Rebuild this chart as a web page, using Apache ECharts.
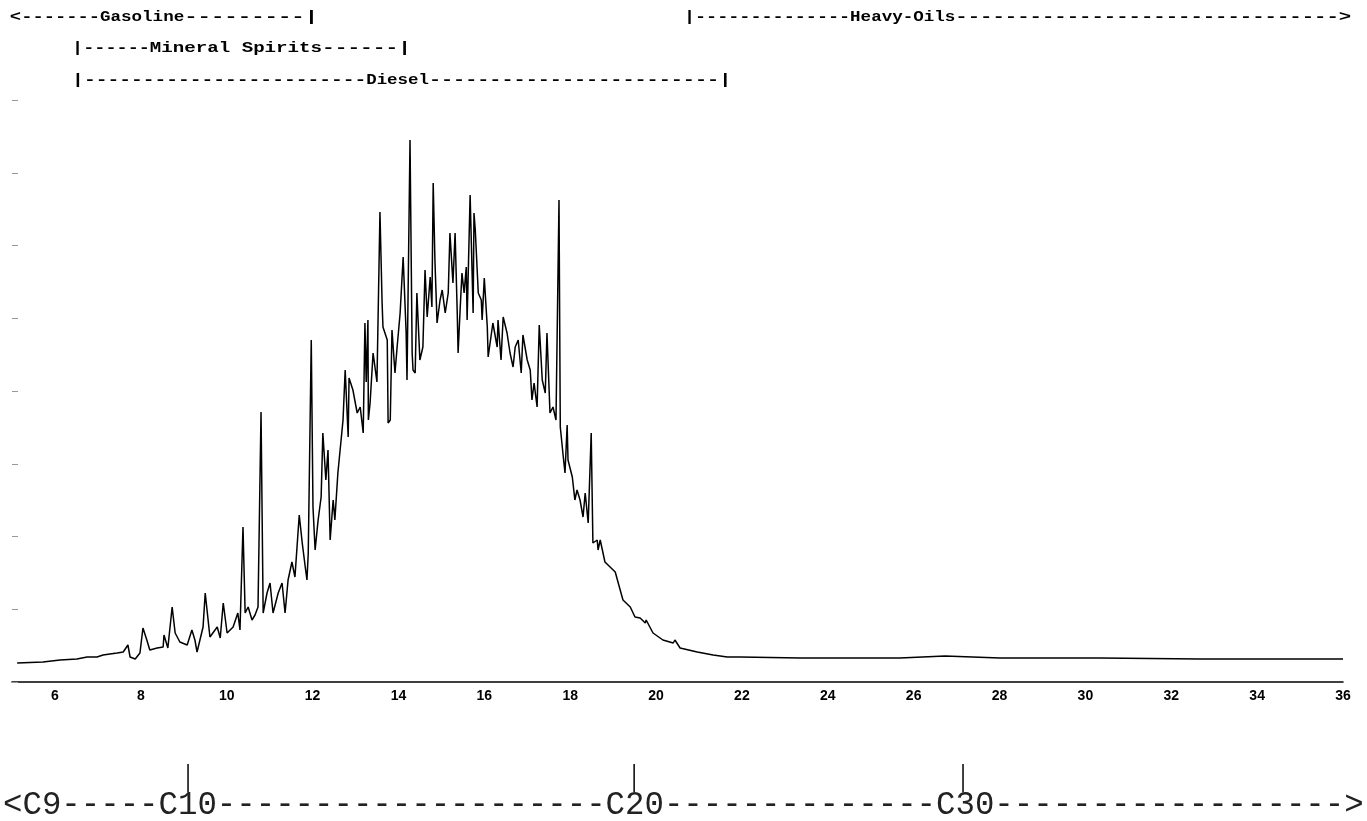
<!DOCTYPE html>
<html>
<head>
    <meta charset="utf-8">
    <title>diesel chromatogram</title>
    <style>
        html, body { margin: 0; padding: 0; background: #fff; }
        #main { width: 1367px; height: 821px; }
    </style>
</head>
<body>
<div id="main"></div>

<script src="https://cdn.jsdelivr.net/npm/echarts@6/dist/echarts.min.js"></script>

<script>
    // retention time (min) and detector response (arbitrary units)
    var times = [
        5.12, 5.72, 6.12, 6.51, 6.75, 6.98, 7.12, 7.28, 7.45, 7.59,
        7.70, 7.75, 7.87, 7.98, 8.05, 8.14, 8.21, 8.38, 8.52, 8.54,
        8.63, 8.73, 8.80, 8.91, 9.08, 9.19, 9.26, 9.31, 9.45, 9.50,
        9.61, 9.78, 9.85, 9.92, 10.01, 10.15, 10.26, 10.31, 10.38, 10.43,
        10.50, 10.59, 10.66, 10.73, 10.80, 10.85, 10.94, 11.01, 11.08, 11.20,
        11.29, 11.36, 11.43, 11.52, 11.59, 11.69, 11.76, 11.83, 11.87, 11.90,
        11.97, 12.01, 12.06, 12.13, 12.20, 12.24, 12.31, 12.36, 12.41, 12.48,
        12.52, 12.59, 12.71, 12.76, 12.83, 12.85, 12.94, 13.04, 13.11, 13.18,
        13.22, 13.25, 13.29, 13.30, 13.34, 13.41, 13.50, 13.57, 13.62, 13.64,
        13.74, 13.76, 13.81, 13.85, 13.92, 13.97, 14.04, 14.11, 14.18, 14.20,
        14.27, 14.32, 14.34, 14.39, 14.43, 14.50, 14.57, 14.62, 14.67, 14.74,
        14.78, 14.81, 14.85, 14.90, 14.97, 15.02, 15.09, 15.16, 15.20, 15.27,
        15.32, 15.37, 15.39, 15.44, 15.48, 15.53, 15.58, 15.60, 15.67, 15.74,
        15.76, 15.79, 15.86, 15.93, 15.95, 16.00, 16.07, 16.09, 16.20, 16.30,
        16.32, 16.39, 16.44, 16.53, 16.60, 16.67, 16.72, 16.79, 16.86, 16.90,
        17.00, 17.07, 17.11, 17.16, 17.23, 17.28, 17.35, 17.42, 17.46, 17.53,
        17.60, 17.67, 17.74, 17.77, 17.84, 17.88, 17.93, 17.95, 18.05, 18.11,
        18.16, 18.23, 18.30, 18.35, 18.42, 18.49, 18.53, 18.63, 18.65, 18.70,
        18.81, 18.93, 19.05, 19.12, 19.23, 19.40, 19.51, 19.63, 19.75, 19.77,
        19.93, 20.16, 20.40, 20.44, 20.56, 20.96, 21.33, 21.66, 21.96, 23.36,
        25.68, 26.73, 28.01, 30.34, 32.67, 36.00
    ];
    var response = [
        19, 20, 22, 23, 25, 25, 27, 28, 29, 30,
        37, 25, 23, 29, 54, 42, 32, 34, 35, 47,
        34, 75, 49, 40, 37, 52, 42, 30, 55, 89,
        45, 55, 44, 79, 49, 55, 69, 52, 155, 69,
        75, 62, 67, 75, 270, 69, 89, 99, 69, 89,
        99, 69, 102, 120, 105, 167, 139, 115, 102, 129,
        342, 175, 132, 162, 185, 249, 202, 232, 142, 182,
        162, 209, 262, 312, 245, 304, 292, 269, 275, 249,
        359, 300, 362, 262, 279, 329, 300, 470, 379, 355,
        342, 259, 262, 352, 309, 335, 369, 425, 349, 302,
        542, 329, 312, 309, 389, 322, 335, 412, 365, 405,
        375, 499, 422, 359, 382, 392, 369, 389, 449, 399,
        449, 369, 329, 375, 409, 389, 415, 362, 487, 369,
        469, 452, 389, 382, 362, 404, 355, 325, 359, 335,
        362, 322, 365, 349, 329, 315, 335, 342, 309, 347,
        322, 312, 282, 299, 275, 357, 302, 289, 349, 269,
        275, 262, 482, 255, 225, 209, 257, 222, 205, 182,
        192, 182, 165, 189, 159, 249, 139, 142, 132, 142,
        120, 115, 110, 99, 82, 75, 65, 64, 59, 62,
        49, 42, 39, 42, 34, 30, 27, 25, 25, 24,
        24, 26, 24, 24, 23, 23
    ];

    // elution ranges of the product classes (min)
    var rangeLabels = [
        '<-------Gasoline---------|',
        '|------Mineral Spirits------|',
        '|------------------------Diesel------------------------|',
        '|--------------Heavy-Oils------------------------------->'
    ];
    var rangeStarts = [4.95, 6.40, 6.40, 20.65];
    var rangeEnds = [12.13, 14.29, 21.75, 36.19];
    var wordStarts = [7.05, 8.21, 13.25, 24.52];
    var wordEnds = [9.01, 12.22, 14.71, 26.97];
    var rangeRows = [0, 1, 2, 0];

    // n-alkane markers
    var carbonLine = '<C9-----C10--------------------C20--------------C30------------------>';
    var carbonTimes = [9.10, 19.49, 27.15];

    var myChart = echarts.init(document.getElementById('main'));

    var points = [];
    for (var i = 0; i < times.length; i++) {
        points.push([times[i], response[i]]);
    }

    var option = {
        animation: false,
        backgroundColor: '#fff',
        grid: { left: 12, right: 24, top: 100, bottom: 139 },
        xAxis: {
            type: 'value',
            min: 5,
            max: 36,
            interval: 1,
            axisLine: { show: true, lineStyle: { color: '#000', width: 1.5 } },
            axisTick: { show: false },
            splitLine: { show: false },
            axisLabel: {
                margin: 7,
                color: '#000',
                fontSize: 14,
                fontWeight: 'bold',
                fontFamily: 'Liberation Sans',
                formatter: function (v) { return v % 2 === 0 ? String(v) : ''; }
            }
        },
        yAxis: {
            type: 'value',
            min: 0,
            max: 582,
            interval: 72.75,
            axisLine: { show: false },
            axisTick: { show: true, inside: true, length: 6, lineStyle: { color: '#999', width: 1 } },
            axisLabel: { show: false },
            splitLine: { show: false }
        },
        series: [{
            type: 'line',
            data: points,
            symbol: 'none',
            lineStyle: { color: '#000', width: 1.5 }
        }]
    };
    myChart.setOption(option);

    // mono glyph advance of Liberation Mono
    var FS = 14;
    var ADV = 0.6 * FS;
    var toPx = function (t) {
        return myChart.convertToPixel({ xAxisIndex: 0 }, t);
    };
    var textPiece = function (str, x, width, y) {
        return {
            type: 'text',
            x: x,
            y: y,
            scaleX: width / (str.length * ADV),
            style: {
                text: str,
                font: 'bold ' + FS + 'px "Liberation Mono"',
                fill: '#000',
                textAlign: 'left',
                textVerticalAlign: 'middle'
            }
        };
    };

    var graphics = [];
    var rowY = [17, 48, 80];
    for (var r = 0; r < rangeLabels.length; r++) {
        var m = rangeLabels[r].match(/^([<|\-]+)(.*?)([\-|>]+)$/);
        var x0 = toPx(rangeStarts[r]);
        var x1 = toPx(wordStarts[r]);
        var x2 = toPx(wordEnds[r]);
        var x3 = toPx(rangeEnds[r]);
        var y = rowY[rangeRows[r]];
        graphics.push(textPiece(m[1], x0, x1 - x0, y));
        graphics.push(textPiece(m[2], x1, x2 - x1, y));
        graphics.push(textPiece(m[3], x2, x3 - x2, y));
    }
    for (var c = 0; c < carbonTimes.length; c++) {
        var cx = toPx(carbonTimes[c]);
        graphics.push({
            type: 'line',
            shape: { x1: cx, y1: 764, x2: cx, y2: 792 },
            style: { stroke: '#000', lineWidth: 1.5 }
        });
    }
    graphics.push({
        type: 'text',
        x: 3,
        y: 805,
        style: {
            text: carbonLine,
            font: '32.4px "Liberation Mono"',
            fill: '#222',
            textAlign: 'left',
            textVerticalAlign: 'middle'
        }
    });
    myChart.setOption({ graphic: graphics });
</script>
</body>
</html>
